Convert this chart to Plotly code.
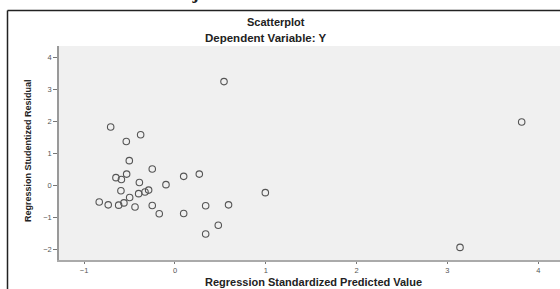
import plotly.graph_objects as go

pred_x = [-0.708, -0.378, -0.536, -0.503, -0.25, -0.532, -0.65, -0.59, 0.096, 0.268,
          -0.392, -0.099, -0.595, -0.29, -0.33, -0.40, -0.499, 0.995, -0.834, -0.735,
          -0.62, -0.562, -0.44, -0.25, 0.338, 0.59, -0.173, 0.096, 0.477, 0.338,
          0.54, 3.818, 3.139]
resid_y = [1.82, 1.58, 1.37, 0.77, 0.51, 0.35, 0.24, 0.18, 0.28, 0.35,
           0.09, 0.02, -0.17, -0.15, -0.21, -0.26, -0.38, -0.23, -0.52, -0.61,
           -0.62, -0.55, -0.68, -0.63, -0.64, -0.61, -0.89, -0.88, -1.25, -1.52,
           3.24, 1.98, -1.94]
x_ticks = [-1, 0, 1, 2, 3, 4]
y_ticks = [-2, -1, 0, 1, 2, 3, 4]

W, H = 560, 289
L, R, T, B = 59, 0, 46, 29
pw, ph = W - L - R, H - T - B

def px(x):
    return (x - L) / pw

def py(y):
    return (H - B - y) / ph

fig = go.Figure()
fig.add_trace(go.Scatter(
    x=pred_x, y=resid_y, mode="markers",
    marker=dict(symbol="circle-open", size=6.5, color="#555555", line=dict(width=1.1)),
    hoverinfo="x+y", showlegend=False,
))

tickfont = dict(family="Liberation Sans, Arial, sans-serif", size=7.5, color="#555555")
fig.update_layout(
    width=W, height=H,
    margin=dict(l=L, r=R, t=T, b=B),
    paper_bgcolor="white", plot_bgcolor="#f0f0f0",
    xaxis=dict(range=[-1.277, 4.24], tickvals=x_ticks, ticks="outside", ticklen=2,
               tickcolor="#777", tickfont=tickfont, showgrid=False, zeroline=False,
               showline=True, linecolor="#aaaaaa", linewidth=2, mirror=False,
               automargin=False),
    yaxis=dict(range=[-2.334, 4.353], tickvals=y_ticks, ticks="outside", ticklen=4,
               tickcolor="#777", tickfont=tickfont, showgrid=False, zeroline=False,
               showline=True, linecolor="#999999", linewidth=1.5, mirror=True,
               automargin=False),
    shapes=[
        # outer frame (left and top edges visible)
        dict(type="line", xref="paper", yref="paper", x0=px(7.5), x1=px(7.5),
             y0=py(10.5), y1=py(300), line=dict(color="#222", width=1.5)),
        dict(type="line", xref="paper", yref="paper", x0=px(7.5), x1=px(600),
             y0=py(10.5), y1=py(10.5), line=dict(color="#222", width=1.5)),
    ],
    annotations=[
        dict(text="<b>Scatterplot</b>", xref="paper", yref="paper", x=px(276), y=py(22),
             showarrow=False, xanchor="center", yanchor="middle",
             font=dict(family="Liberation Sans, Arial, sans-serif", size=11, color="#222")),
        dict(text="<b>Dependent Variable: Y</b>", xref="paper", yref="paper", x=px(266), y=py(37.5),
             showarrow=False, xanchor="center", yanchor="middle",
             font=dict(family="Liberation Sans, Arial, sans-serif", size=11.5, color="#222")),
        dict(text="<b>Regression Standardized Predicted Value</b>", xref="paper", yref="paper",
             x=px(313), y=py(282), showarrow=False, xanchor="center", yanchor="middle",
             font=dict(family="Liberation Sans, Arial, sans-serif", size=11, color="#222")),
        dict(text="<b>Regression Studentized Residual</b>", xref="paper", yref="paper",
             x=px(28), y=py(151), showarrow=False, xanchor="center", yanchor="middle",
             textangle=-90,
             font=dict(family="Liberation Sans Narrow, Liberation Sans, Arial, sans-serif", size=9, color="#222")),
        dict(text="<b>Berdasarkan</b>", xref="paper", yref="paper", x=px(28), y=py(4.5),
             showarrow=False, xanchor="left", yanchor="bottom",
             font=dict(family="Liberation Serif, serif", size=19, color="#222")),
        dict(text="<b>uji</b>", xref="paper", yref="paper", x=px(180), y=py(4.5),
             showarrow=False, xanchor="left", yanchor="bottom",
             font=dict(family="Liberation Serif, serif", size=19, color="#222")),
    ],
)

fig.write_html("out.html", config={"displayModeBar": False},
               post_script="document.body.style.margin='0';document.body.style.padding='0';")
